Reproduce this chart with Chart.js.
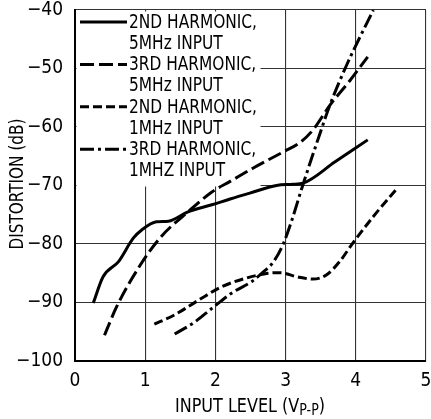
<!DOCTYPE html>
<html>
<head>
<meta charset="utf-8">
<script src="https://cdn.jsdelivr.net/npm/chart.js@4"></script>
<style>
  html, body { margin: 0; padding: 0; background: #fff; }
  #wrap { width: 431px; height: 419px; }
</style>
</head>
<body>
<div id="wrap"><canvas id="graph"></canvas></div>
<script>
// valores (V p-p, dB)
const x2nd5 = [0.26, 0.40, 0.62, 0.83, 0.95, 1.16, 1.33, 1.61, 1.95, 2.21, 2.49, 2.87, 3.10, 3.25, 3.70, 4.17];
const y2nd5 = [-90.1, -85.6, -83.0, -79.0, -77.6, -76.2, -76.1, -74.5, -73.3, -72.3, -71.3, -70.0, -69.8, -69.6, -66.0, -62.2];

const x3rd5 = [0.42, 0.59, 0.93, 1.23, 1.61, 1.95, 2.21, 2.54, 2.96, 3.20, 3.39, 3.63, 3.92, 4.17];
const y3rd5 = [-95.6, -90.8, -83.6, -78.7, -74.5, -71.1, -69.3, -67.0, -64.3, -62.7, -60.5, -56.3, -52.0, -48.0];

const x2nd1 = [1.13, 1.42, 1.76, 2.09, 2.42, 2.75, 2.92, 3.16, 3.39, 3.58, 3.77, 3.96, 4.25, 4.58];
const y2nd1 = [-93.7, -92.1, -89.6, -87.3, -85.9, -85.0, -84.9, -85.6, -86.0, -85.3, -83.0, -79.8, -75.3, -70.6];

const x3rd1 = [1.42, 1.71, 1.95, 2.23, 2.52, 2.66, 2.83, 2.97, 3.09, 3.23, 3.49, 3.63, 3.87, 4.25];
const y3rd1 = [-95.4, -93.3, -91.0, -88.4, -86.4, -85.0, -83.0, -79.9, -75.9, -70.5, -61.1, -56.3, -49.4, -40.0];

const legendLabels = [
  ['2ND HARMONIC,', '5MHz INPUT'],
  ['3RD HARMONIC,', '5MHz INPUT'],
  ['2ND HARMONIC,', '1MHz INPUT'],
  ['3RD HARMONIC,', '1MHZ INPUT']
];
const xTicks = [0, 1, 2, 3, 4, 5];
const yTicks = [-100, -90, -80, -70, -60, -50, -40];

const FONT = '"DejaVu Sans Condensed", "Liberation Sans", sans-serif';

const pts = (xs, ys) => xs.map((x, i) => ({ x: x, y: ys[i] }));

const dashes = [[], [14, 5], [9, 4], [14, 4, 3, 4]];

const series = [
  pts(x2nd5, y2nd5),
  pts(x3rd5, y3rd5),
  pts(x2nd1, y2nd1),
  pts(x3rd1, y3rd1)
];

const datasets = series.map((d, i) => ({
  label: legendLabels[i].join(' '),
  data: d,
  borderColor: '#000',
  borderWidth: 3,
  borderDash: dashes[i],
  pointRadius: 0,
  fill: false,
  cubicInterpolationMode: 'monotone'
}));

// texto comprimido na horizontal (fonte condensada do original)
const squeezeText = (ctx, txt, x, y, sx) => {
  ctx.save();
  ctx.translate(x, y);
  ctx.scale(sx, 1);
  ctx.fillText(txt, 0, 0);
  ctx.restore();
};

// legenda e títulos desenhados à mão
const extras = {
  id: 'extras',
  beforeDatasetsDraw(chart) {
    const ctx = chart.ctx;
    const a = chart.chartArea;
    ctx.save();
    ctx.fillStyle = '#fff';
    ctx.fillRect(a.left + 1.5, a.top + 1.5, 259 - a.left, 185 - a.top);
    ctx.fillStyle = '#000';
    ctx.strokeStyle = '#000';
    ctx.font = '19px ' + FONT;
    ctx.textBaseline = 'middle';
    const sx = 128 / ctx.measureText('2ND HARMONIC,').width;
    legendLabels.forEach((lines, i) => {
      const y = 22 + i * 42.4;
      ctx.lineWidth = 3;
      ctx.setLineDash(dashes[i]);
      ctx.beginPath();
      ctx.moveTo(80, y);
      ctx.lineTo(127, y);
      ctx.stroke();
      ctx.setLineDash([]);
      squeezeText(ctx, lines[0], 129, y + 1, sx);
      squeezeText(ctx, lines[1], 129, y + 22, sx);
    });
    ctx.restore();
  },
  afterDraw(chart) {
    const ctx = chart.ctx;
    ctx.save();
    ctx.fillStyle = '#000';
    // eixo y
    ctx.font = '19px ' + FONT;
    const yt = 'DISTORTION (dB)';
    const sy = 131 / ctx.measureText(yt).width;
    ctx.translate(18, 184);
    ctx.rotate(-Math.PI / 2);
    ctx.scale(sy, 1);
    ctx.textAlign = 'center';
    ctx.textBaseline = 'middle';
    ctx.fillText(yt, 0, 0);
    ctx.restore();
    // eixo x com subscrito
    ctx.save();
    ctx.fillStyle = '#000';
    ctx.textBaseline = 'alphabetic';
    const main = 'INPUT LEVEL (V';
    const sub = 'P-P';
    ctx.font = '19px ' + FONT;
    const w1 = ctx.measureText(main).width;
    const w3 = ctx.measureText(')').width;
    ctx.font = '15px ' + FONT;
    const w2 = ctx.measureText(sub).width;
    const k = 150 / (w1 + w2 + w3);
    ctx.translate(175, 0);
    ctx.scale(k, 1);
    ctx.font = '19px ' + FONT;
    ctx.fillText(main, 0, 412);
    ctx.font = '15px ' + FONT;
    ctx.fillText(sub, w1, 415);
    ctx.font = '19px ' + FONT;
    ctx.fillText(')', w1 + w2, 412);
    ctx.restore();
  }
};

const ctxG = document.getElementById('graph').getContext('2d');

const graph = new Chart(ctxG, {
  type: 'line',
  data: { datasets: datasets },
  plugins: [extras],
  options: {
    responsive: true,
    maintainAspectRatio: false,
    animation: false,
    layout: { padding: { top: 10, right: 5, left: 0, bottom: 0 } },
    plugins: {
      legend: { display: false },
      tooltip: { enabled: false }
    },
    scales: {
      x: {
        type: 'linear',
        min: 0,
        max: 5,
        afterFit: (s) => { s.height = 58; s.paddingLeft = 0; s.paddingRight = 0; },
        afterBuildTicks: (s) => { s.ticks = xTicks.map(v => ({ value: v })); },
        ticks: {
          color: '#000',
          font: { family: FONT, size: 19 },
          padding: 9,
          maxRotation: 0
        },
        grid: { color: '#333', lineWidth: 1.1, drawTicks: false },
        border: { color: '#000', width: 2 }
      },
      y: {
        type: 'linear',
        min: -100,
        max: -40,
        afterFit: (s) => { s.width = 75; s.paddingTop = 0; s.paddingBottom = 0; },
        afterBuildTicks: (s) => { s.ticks = yTicks.map(v => ({ value: v })); },
        ticks: {
          color: '#000',
          font: { family: FONT, size: 19 },
          padding: 12,
          callback: (v) => (v < 0 ? '\u2212' + Math.abs(v) : String(v))
        },
        grid: { color: '#333', lineWidth: 1.1, drawTicks: false },
        border: { color: '#000', width: 2 }
      }
    }
  }
});
</script>
</body>
</html>
